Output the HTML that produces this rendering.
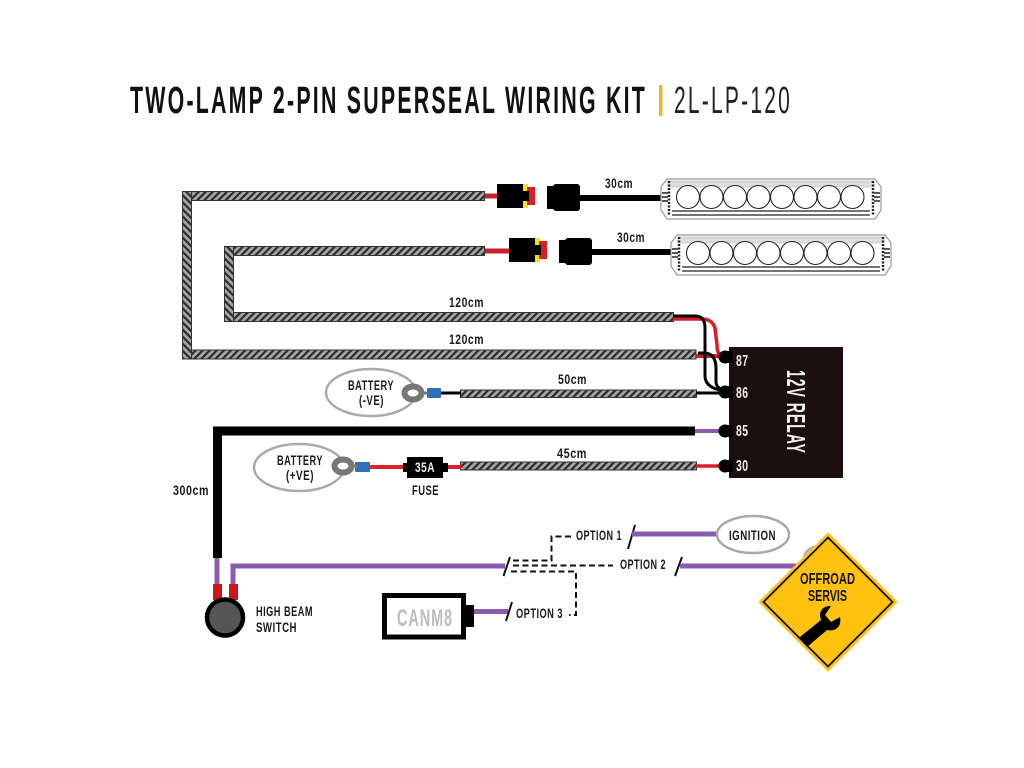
<!DOCTYPE html>
<html><head><meta charset="utf-8"><style>
html,body{margin:0;padding:0;background:#fff;width:1024px;height:768px;overflow:hidden}
svg{display:block}
text{font-family:"Liberation Sans Narrow","Liberation Sans",sans-serif;font-weight:bold;fill:#1a1a1a;letter-spacing:.7px}
</style></head><body>
<svg width="1024" height="768" viewBox="0 0 1024 768" xmlns="http://www.w3.org/2000/svg">
<defs>
<pattern id="h" width="5" height="5" patternUnits="userSpaceOnUse" patternTransform="rotate(45)">
<rect width="5" height="5" fill="#a6a6a6"/><rect width="2.2" height="5" fill="#2a2a2a"/></pattern>
<pattern id="v" width="5" height="5" patternUnits="userSpaceOnUse" patternTransform="rotate(-45)">
<rect width="5" height="5" fill="#a6a6a6"/><rect width="2.2" height="5" fill="#2a2a2a"/></pattern>
<g id="conn">
<rect x="497" y="184" width="26" height="24" fill="#000"/>
<rect x="523" y="184" width="5" height="24" fill="#f5e020"/>
<rect x="527" y="187" width="8" height="18" fill="#d81f26"/>
<rect x="523" y="191" width="6" height="10" fill="#000"/>
<path d="M547 186h6l2-2h23l2 2v23l-2 2h-23l-2-2h-6z" fill="#000"/>
</g>
<g id="lamp" fill="none" stroke="#222">
<path d="M667 179h208l6 8v23l-6 9H667l-6-9v-23z" fill="#fff" stroke="#999" stroke-width="1.2"/>
<rect x="668" y="181" width="206" height="6" fill="#ddd" stroke="#bbb" stroke-width=".6"/>
<path d="M672 211h198M672 215h198" stroke-width="1.2"/>
<path d="M669 181v34M873 181v34" stroke-width="2.5" stroke-dasharray="2 1.5"/>
<path d="M662 193h6M662 197h6M662 201h6M874 193h6M874 197h6M874 201h6" stroke-width="1.5"/>
<g fill="#fff" stroke-width="1.1">
<circle cx="688" cy="197" r="11.5"/><circle cx="711.5" cy="197" r="11.5"/><circle cx="735" cy="197" r="11.5"/><circle cx="758.5" cy="197" r="11.5"/><circle cx="782" cy="197" r="11.5"/><circle cx="805.5" cy="197" r="11.5"/><circle cx="829" cy="197" r="11.5"/><circle cx="852.5" cy="197" r="11.5"/>
</g></g>
</defs>

<rect width="1024" height="768" fill="#fff"/>

<!-- title -->
<text x="130" y="113" font-size="38" textLength="517" lengthAdjust="spacingAndGlyphs" style="fill:#111;letter-spacing:4px">TWO-LAMP 2-PIN SUPERSEAL WIRING KIT</text>
<rect x="659" y="85" width="3.5" height="31" fill="#e8b53a"/>
<text x="674" y="113" font-size="38" textLength="118" lengthAdjust="spacingAndGlyphs" style="font-weight:normal;fill:#222;letter-spacing:4px">2L-LP-120</text>

<!-- harness -->
<g stroke="#333" stroke-width="1">
<rect x="191.5" y="191.5" width="293" height="9" fill="url(#h)"/>
<rect x="182.5" y="191.5" width="9" height="167.500" fill="url(#v)"/>
<rect x="191.5" y="350" width="504.500" height="9" fill="url(#h)"/>
<rect x="233.500" y="246.500" width="251" height="9" fill="url(#h)"/>
<rect x="224.500" y="246.500" width="9" height="75" fill="url(#v)"/>
<rect x="233.500" y="312.500" width="440" height="9" fill="url(#h)"/>
<rect x="460.500" y="390" width="236" height="7.500" fill="url(#h)"/>
<rect x="460.500" y="462" width="236" height="8" fill="url(#h)"/>
</g>

<!-- connectors + lamps -->
<path d="M485 196h13" stroke="#c8202a" stroke-width="5" fill="none"/>
<path d="M485 251h25" stroke="#c8202a" stroke-width="5" fill="none"/>
<use href="#conn"/>
<use href="#conn" x="12" y="54"/>
<path d="M578 198h86" stroke="#000" stroke-width="6"/>
<path d="M590 252h84" stroke="#000" stroke-width="6"/>
<use href="#lamp"/>
<use href="#lamp" x="10" y="56"/>
<text x="605" y="188" font-size="13.500" textLength="28" lengthAdjust="spacingAndGlyphs">30cm</text>
<text x="617" y="242" font-size="13.500" textLength="28" lengthAdjust="spacingAndGlyphs">30cm</text>
<text x="449" y="307" font-size="13.500" textLength="35" lengthAdjust="spacingAndGlyphs">120cm</text>
<text x="449" y="344" font-size="13.500" textLength="35" lengthAdjust="spacingAndGlyphs">120cm</text>
<text x="558" y="384" font-size="13.500" textLength="29" lengthAdjust="spacingAndGlyphs">50cm</text>
<text x="557" y="458" font-size="13.500" textLength="30" lengthAdjust="spacingAndGlyphs">45cm</text>

<!-- relay wires -->
<path d="M673 319H702Q712 319 715 328L717 345Q717 354 722 357" fill="none" stroke="#d81f26" stroke-width="3.500"/>
<path d="M696 356H712Q722 356 725 357" fill="none" stroke="#c8202a" stroke-width="4"/>
<path d="M673 316H695Q705 316 705 328V376Q705 385 716 389L726 392" fill="none" stroke="#000" stroke-width="3"/>
<path d="M698 353H706Q716 355 716 368V382Q716 388 726 392" fill="none" stroke="#000" stroke-width="3"/>
<path d="M696 393H726" stroke="#000" stroke-width="3"/>
<path d="M695 431H726" stroke="#8b5bb0" stroke-width="4"/>
<path d="M696 466H726" stroke="#d81f26" stroke-width="3.500"/>

<!-- relay -->
<rect x="729" y="347" width="114" height="131" fill="#1c0f0f"/>
<g fill="#000">
<circle cx="725" cy="357" r="6.500"/><rect x="725" y="351" width="8" height="12"/>
<circle cx="725" cy="392" r="6.500"/><rect x="725" y="386" width="8" height="12"/>
<circle cx="725" cy="431" r="6.500"/><rect x="725" y="425" width="8" height="12"/>
<circle cx="725" cy="466" r="6.500"/><rect x="725" y="460" width="8" height="12"/>
</g>
<text x="736" y="366" font-size="16" textLength="12.500" lengthAdjust="spacingAndGlyphs" style="fill:#eee">87</text>
<text x="736" y="398" font-size="16" textLength="12.500" lengthAdjust="spacingAndGlyphs" style="fill:#eee">86</text>
<text x="736" y="436" font-size="16" textLength="12.500" lengthAdjust="spacingAndGlyphs" style="fill:#eee">85</text>
<text x="736" y="471" font-size="16" textLength="12.500" lengthAdjust="spacingAndGlyphs" style="fill:#eee">30</text>
<text transform="translate(787 370) rotate(90)" font-size="26" textLength="84" lengthAdjust="spacingAndGlyphs" style="fill:#f2f2f2;letter-spacing:2px">12V RELAY</text>

<!-- battery - -->
<ellipse cx="371" cy="392.500" rx="45" ry="23.500" fill="#fff" stroke="#aaa" stroke-width="2.500"/>
<text x="348" y="390" font-size="13.500" textLength="46" lengthAdjust="spacingAndGlyphs">BATTERY</text>
<text x="359" y="405" font-size="13.500" textLength="25" lengthAdjust="spacingAndGlyphs">(-VE)</text>
<path d="M441 393h20" stroke="#000" stroke-width="3"/>
<rect x="427" y="388" width="14" height="10" rx="1" fill="#2e72b8"/>
<path d="M422 393h6" stroke="#777" stroke-width="3"/>
<ellipse cx="413" cy="393" rx="8.500" ry="6.500" fill="#fff" stroke="#777" stroke-width="6"/>

<!-- battery + -->
<ellipse cx="299" cy="467.500" rx="45" ry="23.500" fill="#fff" stroke="#aaa" stroke-width="2.500"/>
<text x="277" y="465" font-size="13.500" textLength="46" lengthAdjust="spacingAndGlyphs">BATTERY</text>
<text x="286" y="480" font-size="13.500" textLength="28" lengthAdjust="spacingAndGlyphs">(+VE)</text>
<path d="M369 467h36M445 467h16" stroke="#e0202a" stroke-width="4"/>
<rect x="355" y="462" width="15" height="10" rx="1" fill="#2e72b8"/>
<path d="M351 466h6" stroke="#777" stroke-width="3"/>
<ellipse cx="343" cy="466" rx="8.500" ry="6.500" fill="#fff" stroke="#777" stroke-width="6"/>
<path d="M403 463h4v-6h36v6h5v9h-5v6h-36v-6h-4z" fill="#000"/>
<text x="415" y="472" font-size="14" textLength="20" lengthAdjust="spacingAndGlyphs" style="fill:#eee">35A</text>
<text x="412" y="495" font-size="14" textLength="27" lengthAdjust="spacingAndGlyphs">FUSE</text>

<!-- 300cm black -->
<path d="M695 431H217.500V558" fill="none" stroke="#000" stroke-width="9"/>
<text x="173" y="495" font-size="13.500" textLength="36" lengthAdjust="spacingAndGlyphs">300cm</text>

<!-- switch -->
<path d="M217 558V586" stroke="#8b5bb0" stroke-width="5"/>
<path d="M233 586V566H505" fill="none" stroke="#8b5bb0" stroke-width="5"/>
<path d="M213 584h9v16h-9zM229 584h9v16h-9z" fill="#d3131b"/>
<circle cx="225" cy="617.500" r="18" fill="#555" stroke="#000" stroke-width="4.500"/>
<text x="256" y="616" font-size="13.500" textLength="57" lengthAdjust="spacingAndGlyphs">HIGH BEAM</text>
<text x="256" y="632" font-size="13.500" textLength="41" lengthAdjust="spacingAndGlyphs">SWITCH</text>

<!-- CANM8 -->
<rect x="384.500" y="595.500" width="79" height="41.500" fill="#fff" stroke="#000" stroke-width="5"/>
<rect x="466" y="605" width="8" height="22" fill="#000"/>
<text x="397" y="626" font-size="24" textLength="56" lengthAdjust="spacingAndGlyphs" style="fill:#bcbcbc;letter-spacing:1.5px">CANM8</text>
<path d="M474 611.500H508" stroke="#8b5bb0" stroke-width="5"/>

<!-- slashes -->
<g stroke="#111" stroke-width="2" fill="none">
<path d="M503.500 576L510 557M506 621L512 602M675 576L682 557M628 549L635 525"/>
</g>

<!-- dashed -->
<g stroke="#111" stroke-width="2" fill="none" stroke-dasharray="6 3.500">
<path d="M513 560.500H551.500V536.500H572"/>
<path d="M513 565.500H613"/>
<path d="M511 571.500H576V615H569"/>
</g>

<text x="576" y="540" font-size="14" textLength="46" lengthAdjust="spacingAndGlyphs">OPTION 1</text>
<text x="620" y="569" font-size="14" textLength="46" lengthAdjust="spacingAndGlyphs">OPTION 2</text>
<text x="516" y="618" font-size="14" textLength="47" lengthAdjust="spacingAndGlyphs">OPTION 3</text>

<!-- ignition -->
<path d="M632 534H717" stroke="#8b5bb0" stroke-width="5"/>
<ellipse cx="753" cy="534.500" rx="36" ry="18.500" fill="#fff" stroke="#aaa" stroke-width="2.500"/>
<text x="729" y="540" font-size="14" textLength="47" lengthAdjust="spacingAndGlyphs">IGNITION</text>

<!-- purple to sign -->
<path d="M680 566H800" stroke="#8b5bb0" stroke-width="5"/>
<ellipse cx="820" cy="558" rx="16" ry="12" fill="#ddd" stroke="#aaa" stroke-width="2"/>

<!-- sign -->
<path d="M828 533L897 602L828 671L759 602Z" fill="#ffc20e" stroke="#ffc20e" stroke-width="1" stroke-linejoin="round"/>
<path d="M828 537.500L892.500 602L828 666.500L763.500 602Z" fill="#ffc20e" stroke="#111" stroke-width="1.800"/>
<text x="800" y="584" font-size="16" textLength="55" lengthAdjust="spacingAndGlyphs" style="fill:#111;letter-spacing:0">OFFROAD</text>
<text x="808" y="601" font-size="16" textLength="39" lengthAdjust="spacingAndGlyphs" style="fill:#111;letter-spacing:0">SERVIS</text>
<path d="M800 637L821 620C818 612 822 606 831 606L825 615L831 622L840 617C842 626 836 632 827 630L807 647Z" fill="#000"/>
</svg>
</body></html>
